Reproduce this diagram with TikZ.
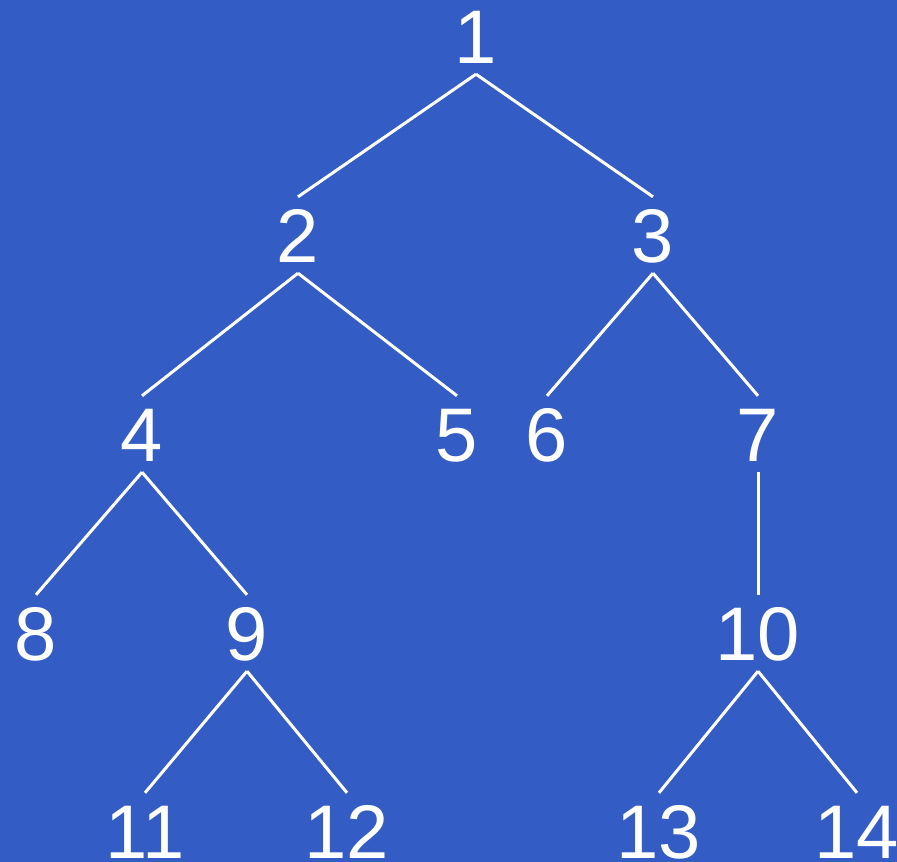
\documentclass[tikz,border=0pt]{standalone}
\usepackage{fontspec}
\setmainfont{Liberation Sans}
\definecolor{bg}{RGB}{51,92,196}
\begin{document}
\begin{tikzpicture}[x=1pt,y=-1pt,
  num/.style={text=white, font=\fontsize{76}{76}\selectfont, inner sep=0pt,
    outer xsep=0pt, outer ysep=11pt, text height=54.4pt, text depth=0pt},
  edge/.style={draw=white, line width=3pt}]
\fill[bg] (0,0) rectangle (897,862);
\useasboundingbox (0,0) rectangle (897,862);
\node[num] (n1) at (476,36) {1};
\node[num] (n2) at (298,235) {2};
\node[num] (n3) at (653,235) {3};
\node[num] (n4) at (142,434) {4};
\node[num] (n5) at (457,434) {5};
\node[num] (n6) at (547,434) {6};
\node[num] (n7) at (758,434) {7};
\node[num] (n8) at (36,633) {8};
\node[num] (n9) at (247,633) {9};
\node[num] (n10) at (758,633) {10};
\node[num] (n11) at (145,831) {11};
\node[num] (n12) at (347,831) {12};
\node[num] (n13) at (659,831) {13};
\node[num] (n14) at (857,831) {14};
\draw[edge] (n1.south) -- (n2.north);
\draw[edge] (n1.south) -- (n3.north);
\draw[edge] (n2.south) -- (n4.north);
\draw[edge] (n2.south) -- (n5.north);
\draw[edge] (n3.south) -- (n6.north);
\draw[edge] (n3.south) -- (n7.north);
\draw[edge] (n4.south) -- (n8.north);
\draw[edge] (n4.south) -- (n9.north);
\draw[edge] (n7.south) -- (n10.north);
\draw[edge] (n9.south) -- (n11.north);
\draw[edge] (n9.south) -- (n12.north);
\draw[edge] (n10.south) -- (n13.north);
\draw[edge] (n10.south) -- (n14.north);
\end{tikzpicture}
\end{document}
